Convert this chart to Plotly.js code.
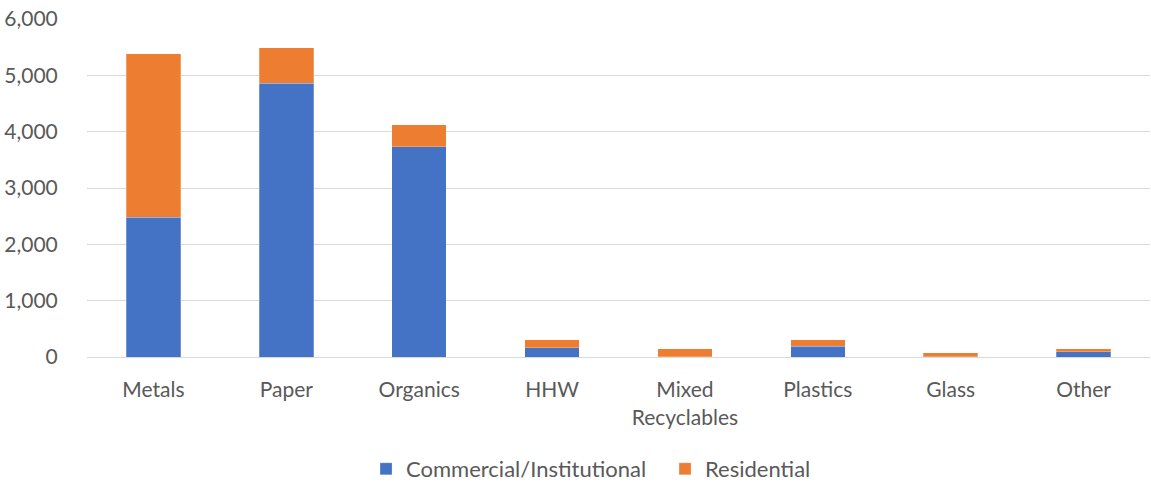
<!DOCTYPE html>
<html><head><meta charset="utf-8">
<script src="https://cdn.plot.ly/plotly-3.0.1.min.js"></script>
<style>html,body{margin:0;padding:0;background:#fff}#chart{width:1151px;height:483px}</style>
</head><body><div id="chart"></div>
<script>
const categories = ["Metals", "Paper", "Organics", "HHW", "Mixed<br>Recyclables", "Plastics", "Glass", "Other"];
const commercial = [2480, 4860, 3730, 165, 5, 195, 5, 90];
const residential = [2900, 630, 390, 145, 145, 115, 70, 60];
const yTicks = [0, 1000, 2000, 3000, 4000, 5000, 6000];

const font = {family: "Lato, 'Open Sans', sans-serif", size: 21, color: "#595959"};
const legendFont = {family: "Lato, 'Open Sans', sans-serif", size: 22, color: "#595959"};
const traces = [
  {type: "bar", name: "Commercial/Institutional", x: categories, y: commercial,
   marker: {color: "#4472C4", line: {color: "rgba(255,255,255,0.5)", width: 0.5}}},
  {type: "bar", name: "Residential", x: categories, y: residential,
   marker: {color: "#ED7D31", line: {color: "rgba(255,255,255,0.5)", width: 0.5}}}
];
const layout = {
  barmode: "stack", bargap: 0.59,
  width: 1151, height: 483,
  margin: {l: 87, r: 1, t: 19, b: 126},
  paper_bgcolor: "#fff", plot_bgcolor: "#fff",
  font: font,
  showlegend: true,
  legend: {orientation: "h", xref: "paper", x: 0.2625, xanchor: "left",
           yref: "container", y: 0.029, yanchor: "middle", font: legendFont, traceorder: "normal",
           itemwidth: 30, entrywidth: 254, entrywidthmode: "pixels"},
  xaxis: {tickfont: font, showgrid: false, showline: false, automargin: false,
          ticks: "outside", ticklen: 14, tickcolor: "rgba(0,0,0,0)", fixedrange: true},
  yaxis: {range: [0, 6000], tickvals: yTicks, tickformat: ",", tickfont: font, automargin: false,
          gridcolor: "#D9D9D9", gridwidth: 1, zeroline: true, zerolinecolor: "#D9D9D9", zerolinewidth: 1,
          showline: false, ticks: "outside", ticklen: 24, tickcolor: "rgba(0,0,0,0)", fixedrange: true}
};
Plotly.newPlot("chart", traces, layout, {displayModeBar: false, staticPlot: true});
</script></body></html>
